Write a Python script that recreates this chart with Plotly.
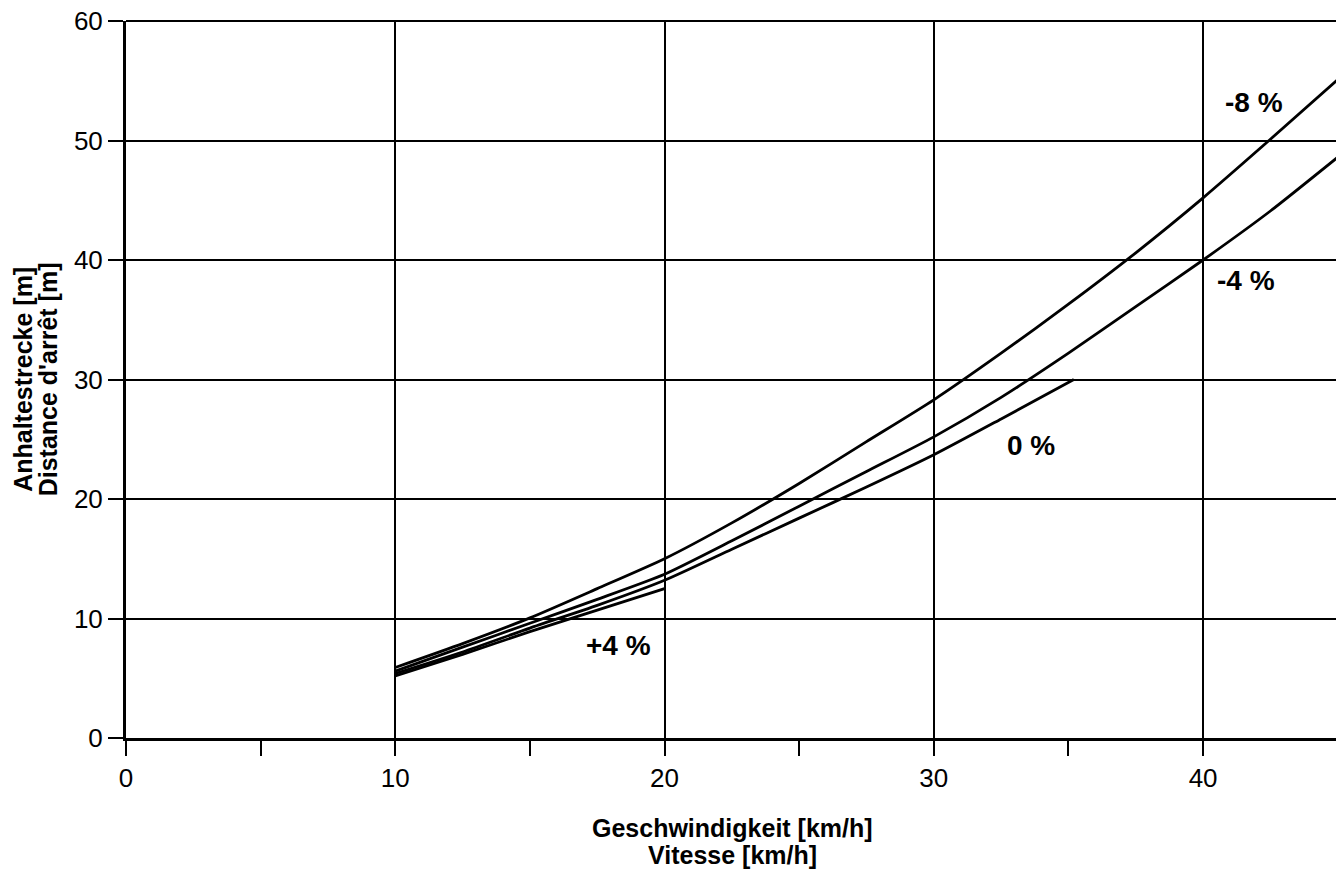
import plotly.graph_objects as go

# Speed [km/h]
speed_m8 = [10, 12.5, 15, 17.5, 20, 22.5, 25, 27.5, 30, 32.5, 35, 37.5, 40, 42.5, 45]
dist_m8 = [5.9, 7.9, 10.05, 12.5, 15.0, 18.0, 21.3, 24.8, 28.3, 32.2, 36.3, 40.6, 45.2, 50.1, 55.1]

speed_m4 = [10, 12.5, 15, 17.5, 20, 22.5, 25, 27.5, 30, 32.5, 35, 37.5, 40, 42.5, 45]
dist_m4 = [5.6, 7.6, 9.6, 11.6, 13.7, 16.5, 19.4, 22.3, 25.2, 28.5, 32.2, 36.1, 40.0, 44.1, 48.6]

speed_0 = [10, 12.5, 15, 17.5, 20, 22.5, 25, 27.5, 30, 32.5, 35.2]
dist_0 = [5.4, 7.2, 9.2, 11.1, 13.2, 15.8, 18.4, 21.0, 23.7, 26.7, 30.0]

speed_p4 = [10, 12.5, 15, 17.5, 20]
dist_p4 = [5.2, 7.0, 8.9, 10.7, 12.5]

curve_labels = ["-8 %", "-4 %", "0 %", "+4 %"]
label_x = [41.9, 41.6, 33.6, 18.3]
label_y = [53.2, 38.3, 24.5, 7.7]

x_tickvals = [0, 10, 20, 30, 40, 45]
x_ticktext = ["0", "10", "20", "30", "40", ""]
y_tickvals = [0, 10, 20, 30, 40, 50, 60]

x_title_lines = ["Geschwindigkeit [km/h]", "Vitesse [km/h]"]
y_title_lines = ["Anhaltestrecke [m]", "Distance d'arrêt [m]"]

FONT = "Liberation Sans, Arial, sans-serif"

fig = go.Figure()
for xs, ys, name in [(speed_m8, dist_m8, "-8 %"), (speed_m4, dist_m4, "-4 %"),
                     (speed_0, dist_0, "0 %"), (speed_p4, dist_p4, "+4 %")]:
    fig.add_trace(go.Scatter(x=xs, y=ys, mode="lines", name=name,
                             line=dict(color="black", width=2.8, shape="spline", smoothing=0.6),
                             showlegend=False))

for t, lx, ly in zip(curve_labels, label_x, label_y):
    fig.add_annotation(x=lx, y=ly, text="<b>" + t + "</b>", showarrow=False,
                       font=dict(family=FONT, size=28, color="black"))

# axis titles (two tightly spaced lines each)
for line, py in zip(x_title_lines, [-0.126, -0.163]):
    fig.add_annotation(xref="paper", yref="paper", x=0.5, y=py, text="<b>" + line + "</b>",
                       showarrow=False, xanchor="center", yanchor="middle",
                       font=dict(family=FONT, size=25, color="black"))
for line, px in zip(y_title_lines, [-0.0855, -0.0645]):
    fig.add_annotation(xref="paper", yref="paper", x=px, y=0.50, text="<b>" + line + "</b>",
                       showarrow=False, xanchor="center", yanchor="middle", textangle=-90,
                       font=dict(family=FONT, size=25, color="black"))

# top frame line of the plot area
fig.add_shape(type="line", xref="paper", yref="paper", x0=0, x1=1, y0=1, y1=1,
              line=dict(color="black", width=2))

fig.update_layout(
    width=1336, height=862,
    margin=dict(l=118, r=6, t=13, b=132, autoexpand=False),
    paper_bgcolor="white", plot_bgcolor="white",
    font=dict(family=FONT, color="black"),
)

fig.update_xaxes(
    range=[0, 45.01], tickvals=x_tickvals, ticktext=x_ticktext, automargin=False,
    showgrid=True, gridcolor="black", gridwidth=1.5,
    showline=True, linecolor="black", linewidth=3, zeroline=False,
    ticks="outside", ticklen=15, tickwidth=2, tickcolor="black",
    tickfont=dict(size=26), ticklabeloverflow="allow",
    minor=dict(dtick=5, tick0=0, ticks="outside", ticklen=15, tickwidth=2,
               tickcolor="black", showgrid=False),
)
fig.update_yaxes(
    range=[0, 60], tickvals=y_tickvals, automargin=False,
    showgrid=True, gridcolor="black", gridwidth=1.5,
    showline=True, linecolor="black", linewidth=3, zeroline=False,
    ticks="outside", ticklen=15, tickwidth=2, tickcolor="black",
    tickfont=dict(size=26), ticklabeloverflow="allow",
)

fig.write_html("out.html")
